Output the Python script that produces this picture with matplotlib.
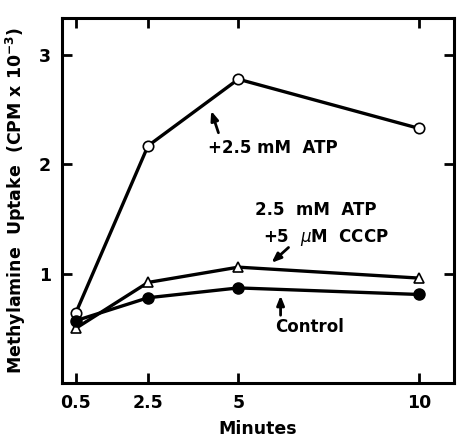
import matplotlib
matplotlib.use("Agg")
import matplotlib.pyplot as plt

minutes = [0.5, 2.5, 5, 10]
atp = [0.64, 2.17, 2.78, 2.33]
atp_cccp = [0.50, 0.92, 1.06, 0.96]
control = [0.57, 0.78, 0.87, 0.81]
xticks = [0.5, 2.5, 5, 10]
xticklabels = ["0.5", "2.5", "5", "10"]
yticks = [1, 2, 3]
yticklabels = ["1", "2", "3"]

plt.rcParams['font.family'] = ['DejaVu Sans']
fig = plt.figure(figsize=(4.57, 4.37), dpi=100)
ax = fig.add_axes([0.1357, 0.1236, 0.8577, 0.8352])

lw = 2.4
ax.plot(minutes, atp, color='black', lw=lw, marker='o', ms=7.5,
        mfc='white', mec='black', mew=1.2, zorder=3)
ax.plot(minutes, atp_cccp, color='black', lw=lw, marker='^', ms=7,
        mfc='white', mec='black', mew=1.2, zorder=3)
ax.plot(minutes, control, color='black', lw=lw, marker='o', ms=8,
        mfc='black', mec='black', zorder=4)

ax.set_xlim(0.12, 10.97)
ax.set_ylim(0, 3.34)
ax.set_xticks(xticks)
ax.set_xticklabels(xticklabels)
ax.set_yticks(yticks)
ax.set_yticklabels(yticklabels)
ax.tick_params(direction='in', length=7, width=2, top=True, right=True,
               labelsize=12.5, pad=8)
for lab in ax.get_xticklabels() + ax.get_yticklabels():
    lab.set_fontweight('bold')
for s in ax.spines.values():
    s.set_linewidth(2.2)

ax.set_xlabel('Minutes', fontsize=12.5, fontweight='bold', labelpad=6)
ax.set_ylabel('Methylamine  Uptake  (CPM x 10$^{\\mathbf{-3}}$)', fontsize=12.5,
              fontweight='bold', labelpad=8)

tk = dict(fontsize=12, fontweight='bold', color='black')
ap = dict(arrowstyle='-|>,head_width=0.22,head_length=0.55', color='black',
          lw=2, shrinkA=0, shrinkB=0)
ax.text(4.17, 2.15, '+2.5 mM  ATP', ha='left', va='center', **tk)
ax.annotate('', xy=(4.25, 2.49), xytext=(4.45, 2.29), arrowprops=ap)
ax.text(5.47, 1.58, '2.5  mM  ATP', ha='left', va='center', **tk)
ax.text(5.67, 1.33, '+5  $\\mu$M  CCCP', ha='left', va='center', **tk)
ax.annotate('', xy=(5.92, 1.10), xytext=(6.39, 1.24), arrowprops=ap)
ax.text(6.03, 0.515, 'Control', ha='left', va='center', **tk)
ax.annotate('', xy=(6.17, 0.80), xytext=(6.17, 0.62), arrowprops=ap)

fig.savefig('out.png', dpi=100)
